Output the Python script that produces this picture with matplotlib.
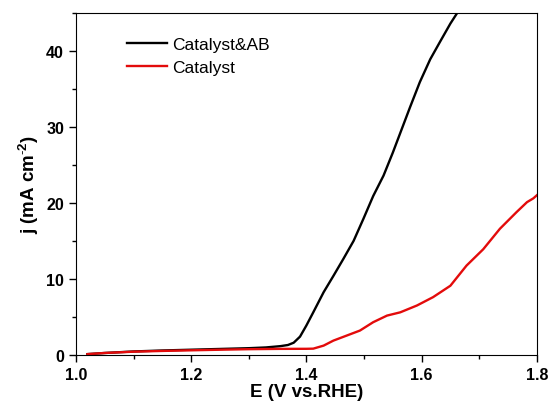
import numpy as np
import matplotlib.pyplot as plt

plt.rcParams['font.family'] = ['Liberation Sans', 'DejaVu Sans']
plt.rcParams['mathtext.fontset'] = 'custom'
plt.rcParams['mathtext.rm'] = 'Liberation Sans'
plt.rcParams['mathtext.bf'] = 'Liberation Sans:bold'

# Catalyst&AB (black)
e_ab = [1.02, 1.05, 1.10, 1.15, 1.20, 1.25, 1.30, 1.33, 1.355, 1.368, 1.378, 1.389, 1.40,
        1.412, 1.43, 1.447, 1.464, 1.482, 1.499, 1.516, 1.534, 1.55, 1.563, 1.58, 1.597,
        1.615, 1.632, 1.65, 1.661, 1.667]
j_ab = [0.1, 0.25, 0.45, 0.58, 0.68, 0.78, 0.88, 0.98, 1.15, 1.3, 1.6, 2.4, 3.86,
        5.6, 8.25, 10.4, 12.6, 15.0, 17.9, 20.9, 23.6, 26.6, 29.2, 32.6, 35.9,
        38.9, 41.2, 43.6, 44.9, 45.5]

# Catalyst (red)
e_cat = [1.02, 1.05, 1.10, 1.15, 1.20, 1.25, 1.30, 1.354, 1.40, 1.412, 1.43, 1.447, 1.47,
         1.493, 1.516, 1.54, 1.563, 1.592, 1.62, 1.65, 1.678, 1.707, 1.736, 1.765, 1.783,
         1.794, 1.80]
j_cat = [0.1, 0.25, 0.42, 0.52, 0.6, 0.68, 0.75, 0.79, 0.8, 0.82, 1.22, 1.88, 2.54,
         3.2, 4.3, 5.17, 5.6, 6.5, 7.6, 9.1, 11.75, 13.9, 16.6, 18.8, 20.1,
         20.6, 21.0]

fig = plt.figure(figsize=(5.5, 4.1), dpi=100)
ax = fig.add_axes([0.138, 0.132, 0.838, 0.834])

ax.plot(e_ab, j_ab, color='black', lw=1.7, label='Catalyst&AB', solid_joinstyle='round')
ax.plot(e_cat, j_cat, color='#e30b0b', lw=1.7, label='Catalyst', solid_joinstyle='round')

ax.set_xlim(1.0, 1.8)
ax.set_ylim(0, 45)
ax.set_xticks([1.0, 1.2, 1.4, 1.6, 1.8])
ax.set_xticks(np.arange(1.1, 1.8, 0.2), minor=True)
ax.set_yticks([0, 10, 20, 30, 40])
ax.set_yticks([5, 15, 25, 35, 45], minor=True)
ax.tick_params(which='both', direction='out', top=False, right=False, width=1)
ax.tick_params(which='major', length=5, labelsize=11.5)
ax.tick_params(which='minor', length=3)
for lab in ax.get_xticklabels() + ax.get_yticklabels():
    lab.set_fontweight('bold')

ax.set_xlabel('E (V vs.RHE)', fontsize=13.5, fontweight='bold', labelpad=1)
ax.set_ylabel(r'j (mA cm$^{\mathbf{\text{-}2}}$)', fontsize=13.5, fontweight='bold', labelpad=4)

ax.legend(loc='upper left', bbox_to_anchor=(0.111, 0.93), frameon=False, fontsize=12.5,
          handlelength=2.3, handletextpad=0.3, labelspacing=0.45, borderpad=0, borderaxespad=0)

fig.savefig('out.png', dpi=100)
